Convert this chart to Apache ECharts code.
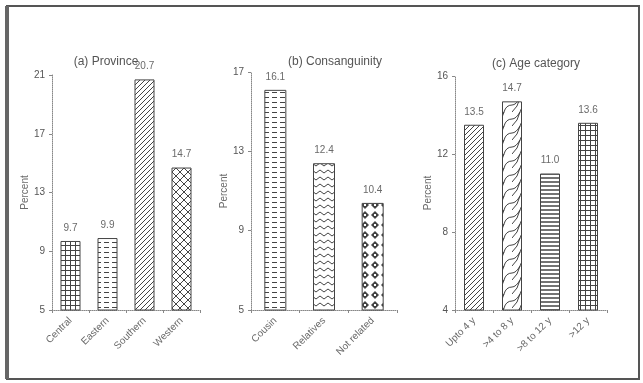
<!DOCTYPE html>
<html>
<head>
<meta charset="utf-8">
<script src="https://cdn.jsdelivr.net/npm/echarts@6/dist/echarts.min.js"></script>
<style>
html,body{margin:0;padding:0;background:#fff;}
#main{width:643px;height:383px;}
</style>
</head>
<body>
<div id="main"></div>
<script>
// data
var provinceCats = ['Central', 'Eastern', 'Southern', 'Western'];
var provinceVals = [9.7, 9.9, 20.7, 14.7];
var consCats = ['Cousin', 'Relatives', 'Not related'];
var consVals = [16.1, 12.4, 10.4];
var ageCats = ['Upto 4 y', '>4 to 8 y', '>8 to 12 y', '>12 y'];
var ageVals = [13.5, 14.7, 11.0, 13.6];

// pattern tiles for the hatched bars
function tile(w, h, draw) {
    var c = document.createElement('canvas');
    c.width = w; c.height = h;
    var ctx = c.getContext('2d');
    ctx.fillStyle = '#fff';
    ctx.fillRect(0, 0, w, h);
    ctx.strokeStyle = '#444';
    ctx.fillStyle = '#444';
    ctx.lineWidth = 1;
    draw(ctx, w, h);
    return {image: c, repeat: 'repeat'};
}
var pat = {
    grid: tile(5, 5, function (ctx) {
        ctx.beginPath(); ctx.moveTo(0, 0.5); ctx.lineTo(5, 0.5);
        ctx.moveTo(0.5, 0); ctx.lineTo(0.5, 5); ctx.stroke();
    }),
    hdash: tile(8, 5, function (ctx) {
        ctx.beginPath(); ctx.moveTo(0, 2.5); ctx.lineTo(5, 2.5); ctx.stroke();
    }),
    hline: tile(6, 4, function (ctx) {
        ctx.lineWidth = 1.5;
        ctx.beginPath(); ctx.moveTo(0, 2); ctx.lineTo(6, 2); ctx.stroke();
    }),
    diag: tile(5, 5, function (ctx) {
        ctx.beginPath(); ctx.moveTo(0, 5); ctx.lineTo(5, 0);
        ctx.moveTo(-1, 1); ctx.lineTo(1, -1);
        ctx.moveTo(4, 6); ctx.lineTo(6, 4); ctx.stroke();
    }),
    check: tile(8, 8, function (ctx) {
        ctx.beginPath(); ctx.moveTo(0, 0); ctx.lineTo(8, 8);
        ctx.moveTo(8, 0); ctx.lineTo(0, 8); ctx.stroke();
        ctx.fillRect(3, 3, 2, 2);
        ctx.fillRect(0, 0, 1, 1);
    }),
    zigzag: tile(8, 7, function (ctx) {
        ctx.beginPath(); ctx.moveTo(0, 2); ctx.lineTo(4, 5); ctx.lineTo(8, 2); ctx.stroke();
    }),
    diamond: tile(10, 10, function (ctx) {
        ctx.beginPath(); ctx.moveTo(5, 1); ctx.lineTo(9, 5); ctx.lineTo(5, 9); ctx.lineTo(1, 5);
        ctx.closePath(); ctx.fill();
        ctx.fillStyle = '#fff'; ctx.fillRect(4, 4, 2, 2);
    }),
    scale: tile(16, 14, function (ctx) {
        ctx.beginPath();
        ctx.moveTo(0, 14); ctx.quadraticCurveTo(6, 9, 8, 0);
        ctx.moveTo(8, 14); ctx.quadraticCurveTo(10, 7, 16, 7);
        ctx.moveTo(0, 7); ctx.quadraticCurveTo(4, 7, 8, 0);
        ctx.stroke();
    })
};

function items(vals, patterns) {
    return vals.map(function (v, i) {
        return {value: v, itemStyle: {color: patterns[i]}};
    });
}

var textCol = '#6a6a6a';
var font = 'Liberation Sans';

function xAx(idx, cats) {
    return {
        type: 'category', gridIndex: idx, data: cats,
        axisLine: {lineStyle: {color: '#888', type: 'dotted', width: 1}},
        axisTick: {show: true, length: 3, lineStyle: {color: '#888'}},
        axisLabel: {rotate: 45, color: textCol, fontSize: 10, fontFamily: font, margin: 9, interval: 0}
    };
}
function yAx(idx, min, max, step) {
    return {
        type: 'value', gridIndex: idx, min: min, max: max, interval: step,
        name: 'Percent', nameLocation: 'middle', nameGap: 21,
        nameTextStyle: {color: textCol, fontSize: 10, fontFamily: font},
        axisLine: {show: true, lineStyle: {color: '#888', type: 'dotted', width: 1}},
        axisTick: {show: true, length: 3, lineStyle: {color: '#888'}},
        axisLabel: {color: '#555', fontSize: 10, fontFamily: font, margin: 7},
        splitLine: {show: false}
    };
}
function barSeries(idx, data, w) {
    return {
        type: 'bar', xAxisIndex: idx, yAxisIndex: idx, data: data, barWidth: w,
        itemStyle: {borderColor: '#444', borderWidth: 1},
        label: {
            show: true, position: 'top', distance: 8, color: textCol, fontSize: 10, fontFamily: font,
            formatter: function (p) { return p.value.toFixed(1); }
        },
        silent: true
    };
}

var chart = echarts.init(document.getElementById('main'));
var option = {
    backgroundColor: '#fff',
    animation: false,
    title: [
        {text: '(a) Province', left: 101, top: 51, textAlign: 'center',
            textStyle: {fontSize: 12, fontWeight: 'normal', color: '#555', fontFamily: font}},
        {text: '(b) Consanguinity', left: 330, top: 51, textAlign: 'center',
            textStyle: {fontSize: 12, fontWeight: 'normal', color: '#555', fontFamily: font}},
        {text: '(c) Age category', left: 531, top: 53, textAlign: 'center',
            textStyle: {fontSize: 12, fontWeight: 'normal', color: '#555', fontFamily: font}}
    ],
    grid: [
        {left: 52, top: 75, width: 148, height: 235},
        {left: 251, top: 72, width: 146, height: 238},
        {left: 455, top: 76, width: 152, height: 234}
    ],
    xAxis: [xAx(0, provinceCats), xAx(1, consCats), xAx(2, ageCats)],
    yAxis: [yAx(0, 5, 21, 4), yAx(1, 5, 17, 4), yAx(2, 4, 16, 4)],
    series: [
        barSeries(0, items(provinceVals, [pat.grid, pat.hdash, pat.diag, pat.check]), 20),
        barSeries(1, items(consVals, [pat.hdash, pat.zigzag, pat.diamond]), 22),
        barSeries(2, items(ageVals, [pat.diag, pat.scale, pat.hline, pat.grid]), 20)
    ],
    graphic: [
        {type: 'rect', shape: {x: 7, y: 6, width: 632, height: 373},
            style: {fill: 'none', stroke: '#555', lineWidth: 2}, silent: true},
        {type: 'rect', shape: {x: 5, y: 6, width: 4, height: 373},
            style: {fill: '#666'}, silent: true}
    ]
};
chart.setOption(option, true);
window.onresize = chart.resize;
</script>
</body>
</html>
